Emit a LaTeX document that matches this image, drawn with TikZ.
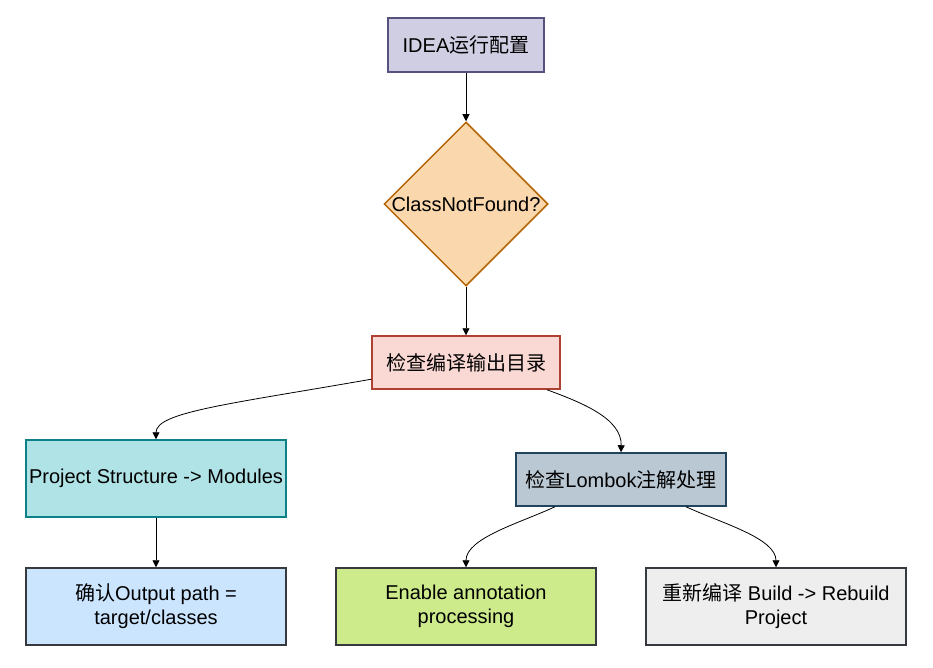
\documentclass[tikz,border=0pt]{standalone}
\usepackage{fontspec}
\setmainfont{Liberation Sans}
\newfontfamily\cjk{Noto Sans CJK SC}
\usetikzlibrary{shapes.geometric,arrows.meta}

\definecolor{purplefill}{HTML}{D0CEE2}\definecolor{purpleline}{HTML}{56517E}
\definecolor{orangefill}{HTML}{FAD7AC}\definecolor{orangeline}{HTML}{B46504}
\definecolor{redfill}{HTML}{FAD9D5}\definecolor{redline}{HTML}{AE4132}
\definecolor{tealfill}{HTML}{B0E3E6}\definecolor{tealline}{HTML}{0E8088}
\definecolor{slatefill}{HTML}{BAC8D3}\definecolor{slateline}{HTML}{23445D}
\definecolor{bluefill}{HTML}{CCE5FF}\definecolor{greenfill}{HTML}{CDEB8B}
\definecolor{greyfill}{HTML}{EEEEEE}\definecolor{darkline}{HTML}{36393D}

\tikzset{
  box/.style={draw, line width=1.5pt, rectangle, align=center, inner sep=0pt,
    font=\fontsize{20}{24}\selectfont},
  decision/.style={draw, line width=1.5pt, diamond, inner sep=0pt,
    minimum width=164pt, minimum height=164pt},
  arr/.style={line width=0.8pt, -{Triangle[width=7pt,length=7pt]}}
}

\begin{document}
\begin{tikzpicture}[x=1pt, y=-1pt]
	\useasboundingbox[fill=white] (0,0) rectangle (933,667);
	% nodes
	\node[box, fill=purplefill, draw=purpleline, minimum width=156pt, minimum height=54pt] (idea) at (466,45) {IDEA{\cjk 运行配置}};
	\node[decision, fill=orangefill, draw=orangeline,
	  label={[font=\fontsize{20}{24}\selectfont]center:ClassNotFound?}] (found) at (466,204) {};
	\node[box, fill=redfill, draw=redline, minimum width=188pt, minimum height=53pt] (check) at (466,362.5) {\cjk 检查编译输出目录};
	\node[box, fill=tealfill, draw=tealline, minimum width=260pt, minimum height=77pt] (proj) at (156,478.5) {Project Structure -> Modules};
	\node[box, fill=slatefill, draw=slateline, minimum width=210pt, minimum height=53pt] (lombok) at (621,479.5) {{\cjk 检查}Lombok{\cjk 注解处理}};
	\node[box, fill=bluefill, draw=darkline, minimum width=260pt, minimum height=77pt] (output) at (156,606.5) {{\cjk 确认}Output path =\\target/classes};
	\node[box, fill=greenfill, draw=darkline, minimum width=260pt, minimum height=77pt] (enable) at (466,606.5) {Enable annotation\\processing};
	\node[box, fill=greyfill, draw=darkline, minimum width=260pt, minimum height=77pt] (rebuild) at (776,606.5) {{\cjk 重新编译} Build -> Rebuild\\Project};
	% connectors
	\draw[arr] (idea) -- (found);
	\draw[arr] (found) -- (check);
	\draw[arr] (check.190) .. controls (230,404) and (156,412) .. (proj.north);
	\draw[arr] ([xshift=81pt]check.south) .. controls (580,402) and (622,418) .. (lombok.north);
	\draw[arr] (output.north |- proj.south) -- (output);
	\draw[arr] ([xshift=-66pt]lombok.south) .. controls (520,523) and (466,538) .. (enable.north);
	\draw[arr] ([xshift=65pt]lombok.south) .. controls (721,523) and (776,538) .. (rebuild.north);
\end{tikzpicture}
\end{document}
